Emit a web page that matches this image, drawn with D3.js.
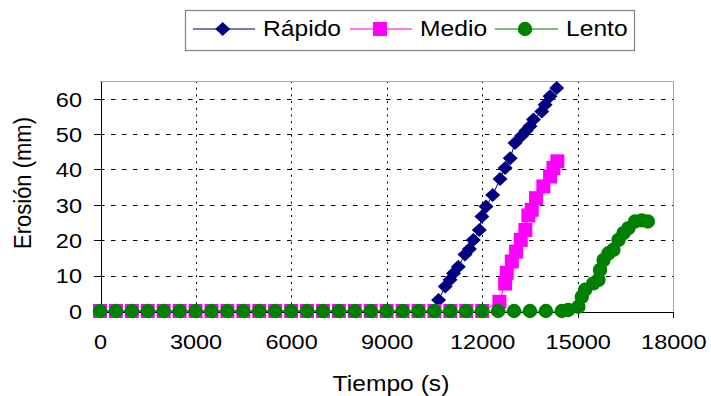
<!DOCTYPE html>
<html>
<head>
<meta charset="utf-8">
<script src="https://cdn.jsdelivr.net/npm/d3@7"></script>
<style>
  body { margin: 0; background: #fff; }
  svg { display: block; }
  text { font-family: "Liberation Sans", Arial, sans-serif; fill: #000; }
</style>
</head>
<body>
<svg id="chart" width="711" height="396"></svg>
<script>
// Axis ticks
const xTickValues = [0, 3000, 6000, 9000, 12000, 15000, 18000];
const yTickValues = [0, 10, 20, 30, 40, 50, 60];

// Rápido: time (s) and erosion (mm)
const rapidoTime = [0, 500, 1000, 1500, 2000, 2500, 3000, 3500, 4000, 4500, 5000,
  5500, 6000, 6500, 7000, 7500, 8000, 8500, 9000, 9500, 10000, 10500,
  10630, 10840, 10990, 11100, 11250, 11460, 11600, 11720, 11910, 11990, 12120,
  12330, 12560, 12720, 12880, 13030, 13240, 13380, 13500, 13610, 13870, 13975,
  14130, 14340];
const rapidoErosion = [0, 0, 0, 0, 0, 0, 0, 0, 0, 0, 0,
  0, 0, 0, 0, 0, 0, 0, 0, 0, 0, 0,
  3.1, 6.9, 8.8, 10.7, 12.5, 16.0, 17.5, 20.1, 22.9, 26.7, 29.5,
  32.8, 37.3, 40.4, 43.2, 47.5, 49.5, 51.0, 52.2, 54.1, 56.4, 58.3,
  60.7, 63.0];

// Medio
const medioTime = [0, 500, 1000, 1500, 2000, 2500, 3000, 3500, 4000, 4500, 5000,
  5500, 6000, 6500, 7000, 7500, 8000, 8500, 9000, 9500, 10000, 10500, 11000,
  11500, 12000,
  12540, 12720, 12770, 12930, 13065, 13210, 13355, 13450, 13555, 13690, 13920,
  14130, 14235, 14360];
const medioErosion = [0, 0, 0, 0, 0, 0, 0, 0, 0, 0, 0,
  0, 0, 0, 0, 0, 0, 0, 0, 0, 0, 0, 0,
  0, 0,
  2.6, 7.8, 10.8, 14.0, 16.8, 20.1, 22.9, 27.0, 28.6, 31.9, 35.2,
  38.0, 40.4, 42.3];

// Lento
const lentoTime = [0, 500, 1000, 1500, 2000, 2500, 3000, 3500, 4000, 4500, 5000,
  5500, 6000, 6500, 7000, 7500, 8000, 8500, 9000, 9500, 10000, 10500, 11000,
  11500, 12000, 12500, 13000, 13500, 14000, 14500,
  14700, 15020, 15126, 15230, 15490, 15650, 15700, 15810, 15965, 16120, 16280,
  16435, 16590, 16800, 17010, 17200];
const lentoErosion = [0, 0, 0, 0, 0, 0, 0, 0, 0, 0, 0,
  0, 0, 0, 0, 0, 0, 0, 0, 0, 0, 0, 0,
  0, 0, 0, 0, 0, 0, 0,
  0.3, 1.2, 4.0, 6.0, 7.8, 8.8, 11.6, 14.4, 16.3, 17.3, 20.1,
  22.0, 23.4, 25.3, 25.6, 25.3];

const seriesNames = ["Rápido", "Medio", "Lento"];

const svg = d3.select("#chart");
const plot = { left: 100, right: 673.3, top: 81, bottom: 311 };
const stretch = 1.12; // horizontal glyph stretch of every label

const x = d3.scaleLinear().domain([0, 18000]).range([plot.left, plot.right]);
const y = d3.scaleLinear().domain([0, 65]).range([plot.bottom, plot.top]);

const series = [
  { name: seriesNames[0], t: rapidoTime, v: rapidoErosion, color: "#000080", shape: "diamond" },
  { name: seriesNames[1], t: medioTime, v: medioErosion, color: "#FF00FF", shape: "square" },
  { name: seriesNames[2], t: lentoTime, v: lentoErosion, color: "#008000", shape: "circle" }
];

// Marker outline centred on (cx, cy)
function markerPath(shape, cx, cy) {
  const p = d3.path();
  if (shape === "diamond") {
    p.moveTo(cx, cy - 7); p.lineTo(cx + 7.5, cy); p.lineTo(cx, cy + 7); p.lineTo(cx - 7.5, cy); p.closePath();
  } else if (shape === "square") {
    p.rect(cx - 7, cy - 7, 14, 14);
  } else {
    p.arc(cx, cy, 7.2, 0, 2 * Math.PI);
  }
  return p.toString();
}

const g = svg.append("g");

// Horizontal dashed gridlines
g.append("g").selectAll("line")
  .data(yTickValues.filter(d => d > 0))
  .join("line")
  .attr("x1", plot.left).attr("x2", plot.right)
  .attr("y1", d => Math.round(y(d)) + 0.5).attr("y2", d => Math.round(y(d)) + 0.5)
  .attr("stroke", "#000").attr("stroke-width", 1)
  .attr("stroke-dasharray", "4.5,6.5");

// Vertical dotted gridlines
g.append("g").selectAll("line")
  .data(xTickValues.filter(d => d > 0 && d < 18000))
  .join("line")
  .attr("x1", d => Math.round(x(d)) + 0.5).attr("x2", d => Math.round(x(d)) + 0.5)
  .attr("y1", plot.top).attr("y2", plot.bottom)
  .attr("stroke", "#000").attr("stroke-width", 1)
  .attr("stroke-dasharray", "2,4.7");

// Plot-area frame (top and right)
g.append("path")
  .attr("d", `M${plot.left},${plot.top + 0.5}H${Math.round(plot.right) + 0.5}V${plot.bottom}`)
  .attr("fill", "none").attr("stroke", "#a6a6a6").attr("stroke-width", 1);

// Axes
const yAxis = g.append("g")
  .attr("transform", `translate(${plot.left + 0.5},0)`)
  .call(d3.axisLeft(y).tickValues(yTickValues).tickSize(7).tickSizeOuter(0).tickFormat(d3.format("d")));
const xAxis = g.append("g")
  .attr("transform", `translate(0,${plot.bottom + 0.5})`)
  .call(d3.axisBottom(x).tickValues(xTickValues).tickSize(6).tickSizeOuter(0).tickFormat(d3.format("d")));

[yAxis, xAxis].forEach(a => {
  a.select(".domain").attr("stroke", "#000").attr("shape-rendering", "crispEdges");
  a.selectAll(".tick line").attr("stroke", "#000").attr("shape-rendering", "crispEdges");
  a.selectAll(".tick text")
    .attr("font-size", 21)
    .attr("font-family", "'Liberation Sans', Arial, sans-serif")
    .attr("fill", "#000");
});
yAxis.selectAll(".tick text")
  .attr("x", -18.5 / stretch).attr("dy", "0.35em")
  .attr("transform", `scale(${stretch},1)`);
xAxis.selectAll(".tick text")
  .attr("y", 38).attr("dy", 0)
  .attr("transform", `scale(${stretch},1)`);
yAxis.selectAll(".tick").filter(d => d === 0).select("line").remove();
xAxis.selectAll(".tick").filter(d => d === 0).select("line").remove();

// Series: connecting line then markers; later series sit on top
series.forEach(s => {
  const pts = s.t.map((t, i) => [t, s.v[i]]);
  g.append("path")
    .datum(pts)
    .attr("d", d3.line().x(d => x(d[0])).y(d => y(d[1])))
    .attr("fill", "none").attr("stroke", s.color).attr("stroke-width", 1);
  g.append("g").selectAll("path")
    .data(pts)
    .join("path")
    .attr("d", d => markerPath(s.shape, x(d[0]), y(d[1])))
    .attr("fill", s.color);
});

// Axis titles
svg.append("text")
  .attr("transform", `translate(391,391) scale(${stretch},1)`)
  .attr("text-anchor", "middle").attr("font-size", 22)
  .text("Tiempo (s)");
svg.append("text")
  .attr("transform", `translate(31,183) scale(${stretch},1) rotate(-90)`)
  .attr("text-anchor", "middle").attr("font-size", 22)
  .text("Erosión (mm)");

// Legend
const legend = svg.append("g");
legend.append("rect")
  .attr("x", 185.5).attr("y", 10.5).attr("width", 449).attr("height", 40)
  .attr("fill", "#fff").attr("stroke", "#808080").attr("stroke-width", 1.2);
const legendItems = [
  { x1: 193, x2: 255, mx: 222.7, tx: 263 },
  { x1: 350, x2: 412, mx: 380, tx: 420 },
  { x1: 495, x2: 558, mx: 525, tx: 566 }
];
series.forEach((s, i) => {
  const it = legendItems[i];
  legend.append("line")
    .attr("x1", it.x1).attr("x2", it.x2).attr("y1", 29).attr("y2", 29)
    .attr("stroke", s.color).attr("stroke-width", 1.3).attr("stroke-opacity", 0.7);
  legend.append("path")
    .attr("d", markerPath(s.shape, it.mx, 29))
    .attr("fill", s.color);
  legend.append("text")
    .attr("transform", `translate(${it.tx},35.5) scale(${stretch},1)`)
    .attr("font-size", 22)
    .text(s.name);
});
</script>
</body>
</html>
